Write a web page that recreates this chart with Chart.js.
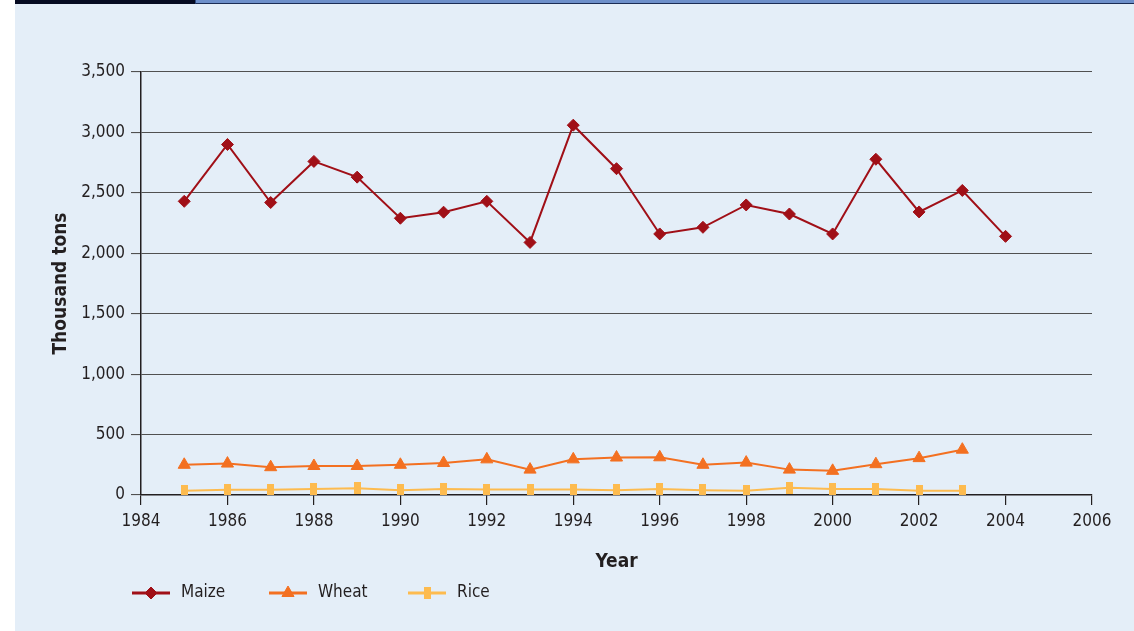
<!DOCTYPE html>
<html>
<head>
<meta charset="utf-8">
<script src="https://cdn.jsdelivr.net/npm/chart.js@4.4.0/dist/chart.umd.min.js"></script>
<style>
  html, body { margin: 0; padding: 0; background: #fff; }
  #wrap { position: relative; width: 1134px; height: 631px; overflow: hidden; }
  #panel { position: absolute; left: 15px; top: 0; right: 0; bottom: 0; background: #e4eef8; }
  #barDark { position: absolute; left: 15px; top: 0; width: 180px; height: 4px; background: #060b22; }
  #barBlue { position: absolute; left: 195px; top: 0; right: 0; height: 3px; background: #6d8fca;
             border-left: 1px solid #2d4a80; border-bottom: 1px solid #1a2c55; }
  #chart { position: absolute; left: 0; top: 0; }
</style>
</head>
<body>
<div id="wrap">
  <div id="panel"></div>
  <div id="barDark"></div>
  <div id="barBlue"></div>
  <canvas id="chart" width="1134" height="631"></canvas>
</div>
<script>
// --- data ---
const years = [1985, 1986, 1987, 1988, 1989, 1990, 1991, 1992, 1993, 1994,
               1995, 1996, 1997, 1998, 1999, 2000, 2001, 2002, 2003, 2004];
const maize = [2430, 2900, 2420, 2760, 2630, 2290, 2340, 2430, 2090, 3060,
               2700, 2160, 2215, 2400, 2325, 2160, 2778, 2342, 2520, 2140];
const wheat = [250, 260, 230, 240, 240, 250, 265, 295, 210, 295,
               310, 312, 250, 268, 210, 200, 255, 305, 375];
const rice  = [35, 44, 44, 50, 55, 40, 50, 45, 45, 45,
               40, 50, 40, 35, 60, 50, 50, 35, 35];
const seriesNames = ['Maize', 'Wheat', 'Rice'];
const yRange = { min: 0, max: 3500, step: 500 };
const xRange = { min: 1984, max: 2006, step: 2 };

const FONT = "'DejaVu Sans Condensed', 'Liberation Sans Narrow', sans-serif";
const INK = '#231f20';
const COLORS = { maize: '#a00f17', wheat: '#f37021', rice: '#fdbb4f' };

// tall narrow block used for the rice markers
function blockMarker(w, h, color) {
    const c = document.createElement('canvas');
    c.width = w; c.height = h;
    const g = c.getContext('2d');
    g.fillStyle = color; g.fillRect(0, 0, w, h);
    return c;
}
const riceMarker = blockMarker(7, 12, COLORS.rice);

const toPoints = arr => arr.map((v, i) => ({ x: years[i], y: v }));

// legend: short line with the marker in the middle, then the name
const legendPlugin = {
    id: 'lineLegend',
    afterDraw(chart) {
        const ctx = chart.ctx;
        const area = chart.chartArea;
        const y = area.bottom + 98;
        const starts = [area.left - 9, area.left + 128, area.left + 267];
        ctx.save();
        chart.data.datasets.forEach((ds, i) => {
            const x0 = starts[i], x1 = x0 + 38, xm = (x0 + x1) / 2;
            ctx.strokeStyle = ds.borderColor; ctx.lineWidth = 3;
            ctx.beginPath(); ctx.moveTo(x0, y); ctx.lineTo(x1, y); ctx.stroke();
            ctx.fillStyle = ds.pointBackgroundColor;
            ctx.strokeStyle = ds.pointBorderColor; ctx.lineWidth = 1;
            Chart.helpers.drawPoint(ctx, { pointStyle: ds.pointStyle, radius: ds.legendRadius, rotation: 0, borderWidth: 1 }, xm, y);
            ctx.fillStyle = INK;
            ctx.font = '17px ' + FONT;
            ctx.textBaseline = 'middle'; ctx.textAlign = 'left';
            ctx.fillText(seriesNames[i], x1 + 11, y);
        });
        ctx.restore();
    }
};

const ctxChart = document.getElementById('chart').getContext('2d');
const chart = new Chart(ctxChart, {
    type: 'line',
    data: {
        datasets: [
            { label: seriesNames[0], data: toPoints(maize), borderColor: COLORS.maize, borderWidth: 2,
              pointStyle: 'rectRot', pointRadius: 6, pointBackgroundColor: COLORS.maize, pointBorderColor: COLORS.maize,
              pointBorderWidth: 1, legendRadius: 6, tension: 0 },
            { label: seriesNames[1], data: toPoints(wheat), borderColor: COLORS.wheat, borderWidth: 2,
              pointStyle: 'triangle', pointRadius: 7, pointBackgroundColor: COLORS.wheat, pointBorderColor: COLORS.wheat,
              pointBorderWidth: 1, legendRadius: 7, tension: 0 },
            { label: seriesNames[2], data: toPoints(rice), borderColor: COLORS.rice, borderWidth: 2,
              pointStyle: riceMarker, pointBackgroundColor: COLORS.rice, pointBorderColor: COLORS.rice,
              legendRadius: 6, tension: 0 }
        ]
    },
    options: {
        responsive: false, animation: false,
        layout: { padding: { left: 0, right: 42, top: 72, bottom: 56 } },
        plugins: { legend: { display: false }, tooltip: { enabled: false } },
        scales: {
            x: {
                type: 'linear', min: xRange.min, max: xRange.max,
                afterFit: s => { s.height = 80; },
                grid: { drawOnChartArea: false, drawTicks: true, tickLength: 10, color: INK, lineWidth: 1.2 },
                border: { color: INK, width: 1.5 },
                ticks: { stepSize: xRange.step, padding: 6, color: INK, font: { family: FONT, size: 17 },
                         maxRotation: 0, callback: v => String(v) },
                title: { display: true, text: 'Year', color: INK, padding: { top: 0, bottom: 2 },
                         font: { family: FONT, size: 19, weight: 'bold' } }
            },
            y: {
                min: yRange.min, max: yRange.max,
                afterFit: s => { s.width = 141; },
                grid: { color: '#505050', lineWidth: 1.1, tickLength: 10 },
                border: { color: INK, width: 1.5 },
                ticks: { stepSize: yRange.step, padding: 6, color: INK, font: { family: FONT, size: 17 },
                         callback: v => v.toLocaleString('en-US') },
                title: { display: true, text: 'Thousand tons', color: INK, padding: { top: 50, bottom: 0 },
                         font: { family: FONT, size: 19, weight: 'bold' } }
            }
        }
    },
    plugins: [legendPlugin]
});
</script>
</body>
</html>
